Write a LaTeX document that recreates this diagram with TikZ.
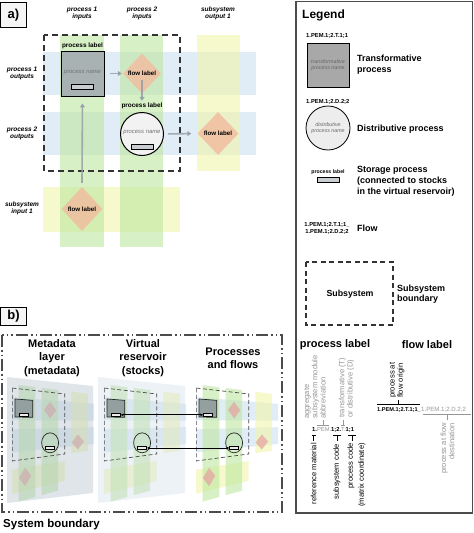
\documentclass[tikz,border=0pt]{standalone}
\usepackage{fontspec}
\setmainfont{Liberation Sans}
\usetikzlibrary{shapes.geometric,arrows.meta,calc}
\definecolor{rowblue}{RGB}{205,225,240}
\definecolor{colgreen}{RGB}{190,230,160}
\definecolor{colyellow}{RGB}{240,245,170}
\definecolor{diamc}{RGB}{240,190,160}
\definecolor{mdiamc}{RGB}{230,160,160}
\definecolor{arrgray}{RGB}{150,158,165}
\definecolor{txtgray}{RGB}{150,150,150}
\definecolor{boxgray}{RGB}{168,178,178}
\definecolor{mboxgray}{RGB}{148,160,160}
\definecolor{leggray}{RGB}{168,168,168}
\definecolor{storec}{RGB}{200,205,210}
\definecolor{ovlA}{RGB}{175,190,200}
\definecolor{ovlB}{RGB}{205,218,230}

\pgfkeys{/mp/.cd, X/.store in=\mpX, Y/.store in=\mpY}
\tikzdeclarecoordinatesystem{mp}{%
  \pgfkeys{/mp/.cd,#1}%
  \pgfmathsetmacro\mpu{(\mpX-43)/213}%
  \pgfmathsetmacro\mpv{(\mpY-35)/212}%
  \pgfmathsetmacro\mpox{\LX+\mpu*82}%
  \pgfmathsetmacro\mpoy{388+\mpu*9.3+\mpv*(113.8-31.6*\mpu)}%
  \pgfpointxy{\mpox}{\mpoy}%
}
\newcommand\mquad[5]{\path[#1] (mp cs:X=#2,Y=#3) -- (mp cs:X=#4,Y=#3) -- (mp cs:X=#4,Y=#5) -- (mp cs:X=#2,Y=#5) -- cycle;}
\newcommand\mdiam[2]{\fill[mdiamc, fill opacity=.7] (mp cs:X=#1-16,Y=#2) -- (mp cs:X=#1,Y=#2-18) -- (mp cs:X=#1+16,Y=#2) -- (mp cs:X=#1,Y=#2+18) -- cycle;}
\newcommand\mbands{%
  \mquad{fill=rowblue, fill opacity=.6}{43}{52}{256}{95}
  \mquad{fill=rowblue, fill opacity=.6}{43}{112}{256}{155}
  \mquad{fill=colyellow, fill opacity=.6}{43}{187}{180}{232}
  \mquad{fill=colgreen, fill opacity=.6}{60}{28}{104}{250}
  \mquad{fill=colgreen, fill opacity=.6}{120}{28}{163}{250}
  \mquad{fill=colyellow, fill opacity=.6}{197}{28}{240}{171}}
\newcommand\mdiams{\mdiam{142}{73}\mdiam{214}{146.5}\mdiam{77}{205.5}}

\begin{document}
\begin{tikzpicture}[x=1pt,y=-1pt,
  hdr/.style={font=\fontsize{6.5}{7.5}\selectfont\bfseries\itshape, align=center, inner sep=0},
  plab/.style={font=\fontsize{6.4}{7}\selectfont\bfseries, inner sep=0},
  pname/.style={font=\fontsize{5.9}{6.6}\selectfont\itshape, text=black!55, inner sep=0, align=center},
  flowdiam/.style={diamond, fill=diamc, fill opacity=.85, text opacity=1, minimum width=40pt, minimum height=42pt, inner sep=0, font=\fontsize{6.2}{7}\selectfont\bfseries},
  tproc/.style={rectangle, draw=black, line width=.9pt, fill=boxgray, minimum width=43pt, minimum height=45pt, inner sep=0},
  dproc/.style={circle, draw=black, line width=1pt, fill=black!5, minimum size=43pt, inner sep=0},
  store/.style={rectangle, draw=black, line width=.7pt, fill=storec, minimum width=22pt, minimum height=5.5pt, inner sep=0},
  mstore/.style={rectangle, draw=black, line width=.5pt, fill=black!8, minimum width=9pt, minimum height=3.5pt, inner sep=0},
  farrow/.style={draw=arrgray, draw opacity=.85, line width=1.6pt, -{Triangle[length=4pt,width=5pt]}},
  panlab/.style={draw=black, line width=.8pt, fill=black!4, minimum width=26pt, inner sep=0, font=\fontsize{13}{14}\selectfont\bfseries},
  legbig/.style={font=\fontsize{9}{10.6}\selectfont\bfseries, align=left, anchor=west, inner sep=0},
  code/.style={font=\fontsize{5.8}{7}\selectfont\bfseries, inner sep=0},
  rotg/.style={rotate=90, font=\fontsize{7.6}{8.3}\selectfont, inner sep=0},
  ttl/.style={font=\fontsize{11}{13.3}\selectfont\bfseries, align=center, inner sep=0},
  subdash/.style={line width=1.4pt, dash pattern=on 6pt off 4pt, draw=black!80}
]
\useasboundingbox (0,0) rectangle (474,533);
\fill[white] (0,0) rectangle (474,533);

% ---------------- panel a ----------------
\node[panlab, minimum height=25pt] (lbla) at (13.5,15) {a)};
\fill[rowblue, fill opacity=.6] (43,52) rectangle (256,95);
\fill[rowblue, fill opacity=.6] (43,112) rectangle (256,155);
\fill[colyellow, fill opacity=.6] (43,187) rectangle (180,232);
\fill[colgreen, fill opacity=.6] (60,35) rectangle (104,247);
\fill[colgreen, fill opacity=.6] (120,35) rectangle (163,247);
\fill[colyellow, fill opacity=.6] (197,35) rectangle (240,171);

\node[hdr] (h1) at (82,13.5) {process 1\\inputs};
\node[hdr] (h2) at (142,13.5) {process 2\\inputs};
\node[hdr] (h3) at (218,13.5) {subsystem\\output 1};
\node[hdr] (r1) at (22,73.5) {process 1\\outputs};
\node[hdr] (r2) at (22,133.5) {process 2\\outputs};
\node[hdr] (r3) at (22,208.5) {subsystem\\input 1};

\draw[subdash] (44,35) rectangle (180,171);

\node[plab] (p1lab) at (82.5,46) {process label};
\node[tproc] (p1) at (82.5,73.5) {};
\node[pname] (p1n) at (82.5,73) {process name};
\node[store] (p1s) at (82,87) {};

\node[flowdiam, minimum width=38pt, minimum height=40pt] (f1) at (142,73.5) {flow label};
\node[plab] (p2lab) at (142,106) {process label};
\node[dproc] (p2) at (142,134) {};
\node[pname] (p2n) at (142,133) {process name};
\node[store, minimum height=5pt] (p2s) at (142,146.5) {};
\node[flowdiam, minimum width=41pt, minimum height=43pt] (f2) at (218,133.5) {flow label};
\node[flowdiam, minimum width=41pt, minimum height=44pt] (f3) at (82,209) {flow label};

\draw[farrow, shorten <=6pt, shorten >=1pt] (p1.east) -- (f1.west);
\draw[farrow, shorten >=2pt] ([yshift=-6pt]f1.center) -- (p2lab.north);
\draw[farrow, shorten <=4pt, shorten >=6pt] (p2.east) -- (f2.west);
\draw[farrow, shorten >=7pt] ([yshift=4pt]f3.north) -- (p1.south);

% ---------------- panel b ----------------
\node[panlab, minimum height=18pt] (lblb) at (13.5,316) {b)};
\draw[line width=1.4pt, draw=black!70, dash pattern=on 12pt off 3pt on 1.5pt off 3pt on 1.5pt off 3pt] (2,335) rectangle (282,512);
\node[font=\fontsize{11.5}{13}\selectfont\bfseries, anchor=west, inner sep=0] (sysb) at (3,525) {System boundary};

\node[ttl] (t1) at (52,358) {Metadata\\layer\\(metadata)};
\node[ttl] (t2) at (143,358) {Virtual\\reservoir\\(stocks)};
\node[ttl, font=\fontsize{11}{13}\selectfont\bfseries] (t3) at (233,358.5) {Processes\\and flows};

% layer 1: metadata
\def\LX{12}
\mbands
\mdiams
\fill[ovlA, fill opacity=.4] (7,377) -- (93,386) -- (93,493) -- (7,503) -- cycle;
\mquad{draw=black!70, line width=.7pt, dash pattern=on 4pt off 2.5pt}{44}{35}{180}{171}
\mquad{draw=black!85, fill=mboxgray, line width=.7pt}{51}{55}{97}{89}
\node[mstore] (sL1) at (mp cs:X=74,Y=84.5) {};
\draw[black!85, line width=.7pt] (mp cs:X=142,Y=143) ellipse [x radius=8.5, y radius=10];
\node[mstore] (eL1) at (mp cs:X=142,Y=154) {};

% layer 2: virtual reservoir
\def\LX{104}
\mbands
\fill[ovlB, fill opacity=.35] (98,377) -- (185,386) -- (185,493) -- (98,503) -- cycle;
\mquad{draw=black!70, line width=.7pt, dash pattern=on 4pt off 2.5pt}{44}{35}{180}{171}
\mquad{draw=black!85, fill=mboxgray, line width=.7pt}{51}{55}{97}{89}
\node[mstore] (sL2) at (mp cs:X=74,Y=84.5) {};
\draw[black!85, line width=.7pt] (mp cs:X=142,Y=143) ellipse [x radius=8.5, y radius=10];
\node[mstore] (eL2) at (mp cs:X=142,Y=154) {};

% layer 3: processes and flows
\def\LX{196}
\mbands
\mdiams
\mquad{draw=black!70, line width=.7pt, dash pattern=on 4pt off 2.5pt}{44}{35}{180}{171}
\mquad{draw=black!85, fill=mboxgray, line width=.7pt}{51}{55}{97}{89}
\node[mstore] (sL3) at (mp cs:X=74,Y=84.5) {};
\draw[black!85, line width=.7pt] (mp cs:X=142,Y=143) ellipse [x radius=8.5, y radius=10];
\node[mstore] (eL3) at (mp cs:X=142,Y=154) {};

\draw[line width=.9pt, {Stealth[length=3pt,width=2.5pt]}-{Stealth[length=3pt,width=2.5pt]}] (sL2.east) -- (sL3.west);
\draw[line width=.9pt, {Stealth[length=3pt,width=2.5pt]}-{Stealth[length=3pt,width=2.5pt]}] (eL2.east) -- (eL3.west);

% ---------------- legend ----------------
\draw[line width=1.5pt, draw=black!70] (296,1.5) rectangle (472.5,513);
\node[font=\fontsize{12}{13}\selectfont\bfseries, anchor=west, inner sep=0] (legt) at (302,15) {Legend};

\node[code, anchor=west] (lc1) at (306,36) {1.PEM.1;2.T.1;1};
\node[tproc, fill=leggray, minimum width=42pt, minimum height=44pt, line width=.8pt] (lsq) at (328,65) {};
\node[pname, font=\fontsize{5.3}{6.4}\selectfont\itshape, text=black!60] (lsqn) at (328,65) {transformative\\process name};
\node[legbig] (lt1) at (357,64.5) {Transformative\\process};

\node[code, anchor=west] (lc2) at (306,102) {1.PEM.1;2.D.2;2};
\node[dproc, minimum size=44pt, line width=.8pt, fill=black!7] (lci) at (328,128) {};
\node[pname, font=\fontsize{5.3}{6.4}\selectfont\itshape, text=black!60] (lcin) at (328,128) {distributive\\process name};
\node[legbig] (lt2) at (357,129) {Distributive process};

\node[font=\fontsize{5.2}{6}\selectfont\bfseries, inner sep=0] (lstl) at (328,172) {process label};
\node[store, minimum height=5pt] (lst) at (328,179.5) {};
\node[legbig] (lt3) at (357,181.3) {Storage process\\(connected to stocks\\in the virtual reservoir)};

\node[code, align=center] (lfl) at (327,228.5) {1.PEM.1;2.T.1;1\_\\1.PEM.1;2.D.2;2};
\node[legbig] (lt4) at (357,228) {Flow};

\draw[subdash, line width=1.4pt, dash pattern=on 5pt off 3.5pt] (306,262) rectangle (393,325);
\node[font=\fontsize{8.8}{10}\selectfont\bfseries, inner sep=0] (lsub) at (350,294) {Subsystem};
\node[legbig] (lt5) at (397,294) {Subsystem\\boundary};

\node[font=\fontsize{11}{12}\selectfont\bfseries, inner sep=0] (plt) at (335,345) {process label};
\node[font=\fontsize{11}{12}\selectfont\bfseries, inner sep=0] (flt) at (427,345) {flow label};

% process label breakdown
\node[code, anchor=west, font=\fontsize{5.8}{7}\selectfont\bfseries] (pc) at (312,430) {1.\textcolor{txtgray}{\mdseries PEM.}1;2.\textcolor{txtgray}{\mdseries T.}1;1};
\node[rotg, anchor=west, align=left, text=txtgray] (ra1) at (315,419) {aggregate\\subsystem module\\abbreviation};
\node[rotg, anchor=west, align=left, text=txtgray] (ra2) at (346.5,418) {transformative (T)\\or distributive (D)};
\draw[txtgray, line width=.7pt] (323,420) -- (323,425) (317,425) -- (329,425);
\draw[txtgray, line width=.7pt] (343,420) -- (343,425) (341,425) -- (345,425);
\draw[black, line width=.9pt] (311.5,435.5) -- (315.7,435.5) (313.6,435.5) -- (313.6,441);
\draw[black, line width=.9pt] (333,435.5) -- (341,435.5) (337,435.5) -- (337,441);
\draw[black, line width=.9pt] (348,435.5) -- (356,435.5) (352,435.5) -- (352,441);
\node[rotg, anchor=east, align=right] (rb1) at (313.6,443) {reference material};
\node[rotg, anchor=east, align=right] (rb2) at (337,444) {subsystem code};
\node[rotg, anchor=east, align=right, font=\fontsize{7.6}{11}\selectfont] (rb3) at (356.5,443) {process code\\(matrix coordinate)};

% flow label breakdown
\node[code, anchor=west, font=\fontsize{5.6}{7}\selectfont\bfseries] (fc1) at (377,410) {1.PEM.1;2.T.1;1\_};
\node[anchor=west, inner sep=0, font=\fontsize{6.1}{7}\selectfont, text=txtgray] (fc2) at (fc1.east) {1.PEM.1;2.D.2;2};
\draw[black, line width=.9pt] (377,404.5) -- (420,404.5) (398,404.5) -- (398,399.5);
\draw[txtgray, line width=.9pt] (422.5,414.5) -- (471,414.5) (447.5,414.5) -- (447.5,420);
\node[rotg, anchor=west, align=left] (ro) at (397,398) {process at\\flow origin};
\node[rotg, anchor=east, align=right, text=txtgray] (rd) at (447.5,423) {process at flow\\destination};
\end{tikzpicture}
\end{document}
